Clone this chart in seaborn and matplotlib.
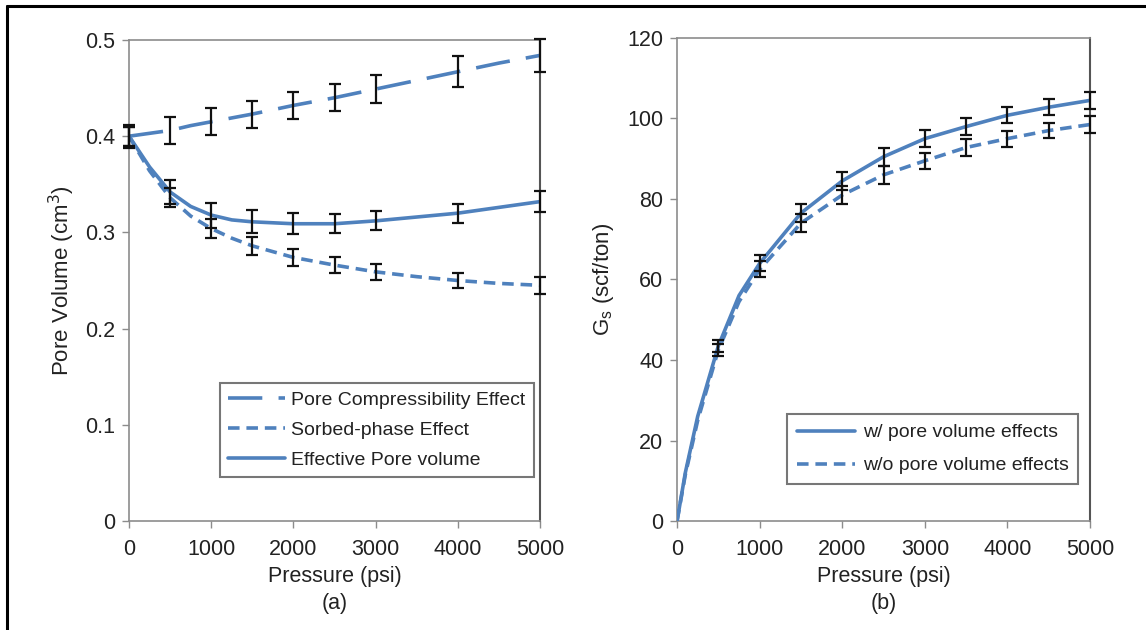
import matplotlib
matplotlib.use("Agg")
import matplotlib.pyplot as plt
import seaborn as sns
import pandas as pd
from matplotlib.lines import Line2D

sns.set_theme(style="white")
plt.rcParams['font.family'] = ['Liberation Sans', 'DejaVu Sans']

# ---- Panel (a) data ----
p_a = [0, 500, 1000, 1500, 2000, 2500, 3000, 4000, 5000]
compress = [0.400, 0.406, 0.415, 0.423, 0.432, 0.440, 0.449, 0.467, 0.484]
compress_err = [0.012, 0.014, 0.014, 0.014, 0.014, 0.014, 0.015, 0.016, 0.017]
sorbed = [0.400, 0.336, 0.304, 0.286, 0.274, 0.266, 0.259, 0.250, 0.245]
sorbed_err = [0.010, 0.010, 0.010, 0.009, 0.009, 0.008, 0.008, 0.008, 0.009]
effective = [0.400, 0.342, 0.318, 0.311, 0.309, 0.309, 0.312, 0.320, 0.332]
effective_err = [0.010, 0.012, 0.013, 0.012, 0.011, 0.010, 0.010, 0.010, 0.011]
# denser readings of the smooth curves
p_a_line = [0, 250, 500, 750, 1000, 1250, 1500, 2000, 2500, 3000, 3500, 4000, 4500, 5000]
compress_line = [0.400, 0.403, 0.406, 0.411, 0.415, 0.419, 0.423, 0.432, 0.440, 0.449, 0.458, 0.467, 0.476, 0.484]
sorbed_line = [0.400, 0.364, 0.336, 0.317, 0.304, 0.294, 0.286, 0.274, 0.266, 0.259, 0.254, 0.250, 0.247, 0.245]
effective_line = [0.400, 0.368, 0.342, 0.327, 0.318, 0.313, 0.311, 0.309, 0.309, 0.312, 0.316, 0.320, 0.326, 0.332]

# ---- Panel (b) data ----
p_b = [500, 1000, 1500, 2000, 2500, 3000, 3500, 4000, 4500, 5000]
with_pv = [43.5, 64.0, 76.5, 84.5, 90.5, 95.0, 98.0, 100.8, 102.8, 104.5]
with_err = [1.5, 2.0, 2.2, 2.2, 2.2, 2.2, 2.2, 2.0, 2.0, 2.2]
without_pv = [42.5, 62.5, 74.0, 81.0, 86.0, 89.5, 92.8, 95.0, 97.0, 98.5]
without_err = [1.5, 2.0, 2.2, 2.2, 2.2, 2.0, 2.0, 2.0, 1.8, 2.0]
p_b_line = [0, 100, 250, 500, 750, 1000, 1500, 2000, 2500, 3000, 3500, 4000, 4500, 5000]
with_line = [0.0, 12.0, 26.0, 43.5, 56.0, 64.0, 76.5, 84.5, 90.5, 95.0, 98.0, 100.8, 102.8, 104.5]
without_line = [0.0, 11.5, 25.0, 42.5, 54.5, 62.5, 74.0, 81.0, 86.0, 89.5, 92.8, 95.0, 97.0, 98.5]

labels_a = ["Pore Compressibility Effect", "Sorbed-phase Effect", "Effective Pore volume"]
labels_b = ["w/ pore volume effects", "w/o pore volume effects"]

BLUE = "#4F81BD"
LW = 2.6
TXT = "#222222"
LONG_DASH = (9.5, 4.5)
SHORT_DASH = (3.2, 1.9)

fig = plt.figure(figsize=(11.46, 6.30), dpi=100)
ax1 = fig.add_axes([0.1126, 0.173, 0.3586, 0.7635])
ax2 = fig.add_axes([0.5908, 0.173, 0.3604, 0.7667])

def style_axes(ax):
    for s in ["left", "bottom", "top"]:
        ax.spines[s].set_color("#8c8c8c")
        ax.spines[s].set_linewidth(1.2)
    ax.spines["right"].set_color("#555555")
    ax.spines["right"].set_linewidth(1.5)
    ax.tick_params(axis="both", which="both", direction="out", length=5, width=1,
                   color="#8c8c8c", labelsize=15.5, labelcolor=TXT,
                   left=True, bottom=True)
    ax.tick_params(axis="x", pad=8)
    ax.tick_params(axis="y", pad=5)
    ax.grid(False)

# Panel (a)
df_a = pd.DataFrame({
    "Pressure": p_a_line * 3,
    "value": compress_line + sorbed_line + effective_line,
    "series": [labels_a[0]] * len(p_a_line) + [labels_a[1]] * len(p_a_line) + [labels_a[2]] * len(p_a_line),
})
dash_map = {labels_a[0]: LONG_DASH, labels_a[1]: SHORT_DASH, labels_a[2]: ""}
sns.lineplot(data=df_a, x="Pressure", y="value", hue="series", style="series",
             dashes=dash_map, palette=[BLUE] * 3, linewidth=LW, ax=ax1,
             legend=False, zorder=3)
for y, e in [(compress, compress_err), (sorbed, sorbed_err), (effective, effective_err)]:
    ax1.errorbar(p_a, y, yerr=e, fmt="none", ecolor="#111111", elinewidth=1.6,
                 capsize=4.5, capthick=1.6, zorder=4, clip_on=False)
ax1.set_xlim(0, 5000)
ax1.set_ylim(0, 0.5)
ax1.set_xticks([0, 1000, 2000, 3000, 4000, 5000])
ax1.set_yticks([0, 0.1, 0.2, 0.3, 0.4, 0.5])
ax1.set_yticklabels(["0", "0.1", "0.2", "0.3", "0.4", "0.5"])
ax1.set_xlabel("Pressure (psi)\n(a)", fontsize=15.5, color=TXT, labelpad=4, linespacing=1.4)
ax1.set_ylabel("Pore Volume (cm$^3$)", fontsize=16, color=TXT, labelpad=6)
style_axes(ax1)
h_a = [Line2D([], [], color=BLUE, lw=LW, dashes=LONG_DASH),
       Line2D([], [], color=BLUE, lw=LW, dashes=SHORT_DASH),
       Line2D([], [], color=BLUE, lw=LW)]
leg = ax1.legend(h_a, labels_a, loc="lower right", bbox_to_anchor=(0.985, 0.092),
                 fontsize=14, frameon=True, fancybox=False, edgecolor="#555555",
                 handlelength=2.9, handletextpad=0.35, borderpad=0.42, labelspacing=0.62,
                 borderaxespad=0)
for t in leg.get_texts():
    t.set_color(TXT)
leg.get_frame().set_linewidth(1.5)

# Panel (b)
df_b = pd.DataFrame({
    "Pressure": p_b_line * 2,
    "value": with_line + without_line,
    "series": [labels_b[0]] * len(p_b_line) + [labels_b[1]] * len(p_b_line),
})
dash_map_b = {labels_b[0]: "", labels_b[1]: SHORT_DASH}
sns.lineplot(data=df_b, x="Pressure", y="value", hue="series", style="series",
             dashes=dash_map_b, palette=[BLUE] * 2, linewidth=LW, ax=ax2,
             legend=False, zorder=3)
for y, e in [(with_pv, with_err), (without_pv, without_err)]:
    ax2.errorbar(p_b, y, yerr=e, fmt="none", ecolor="#111111", elinewidth=1.6,
                 capsize=4.5, capthick=1.6, zorder=4, clip_on=False)
ax2.set_xlim(0, 5000)
ax2.set_ylim(0, 120)
ax2.set_xticks([0, 1000, 2000, 3000, 4000, 5000])
ax2.set_yticks([0, 20, 40, 60, 80, 100, 120])
ax2.set_xlabel("Pressure (psi)\n(b)", fontsize=15.5, color=TXT, labelpad=4, linespacing=1.4)
ax2.set_ylabel("G$_\\mathregular{s}$ (scf/ton)", fontsize=16, color=TXT, labelpad=8)
style_axes(ax2)
h_b = [Line2D([], [], color=BLUE, lw=LW),
       Line2D([], [], color=BLUE, lw=LW, dashes=SHORT_DASH)]
leg2 = ax2.legend(h_b, labels_b, loc="lower right", bbox_to_anchor=(0.971, 0.077),
                  fontsize=14, frameon=True, fancybox=False, edgecolor="#555555",
                  handlelength=3.0, handletextpad=0.4, borderpad=0.48, labelspacing=0.8,
                  borderaxespad=0)
for t in leg2.get_texts():
    t.set_color(TXT)
leg2.get_frame().set_linewidth(1.5)

# outer border (left and top edges)
fig.add_artist(Line2D([7 / 1146, 7 / 1146], [0, 1 - 6 / 630], color="black", lw=2.2,
                      transform=fig.transFigure))
fig.add_artist(Line2D([7 / 1146, 1], [1 - 6 / 630, 1 - 6 / 630], color="black", lw=2.2,
                      transform=fig.transFigure))

fig.savefig("out.png", dpi=100, facecolor="white")
